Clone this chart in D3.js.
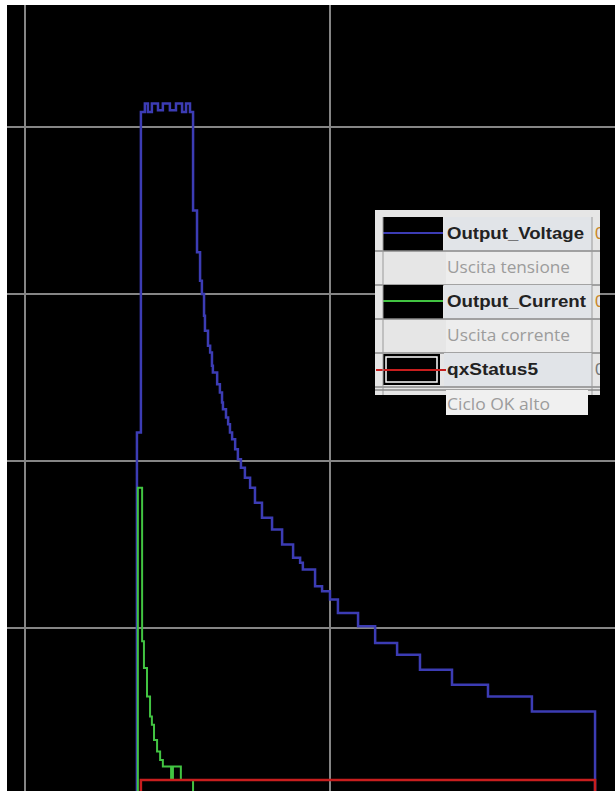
<!DOCTYPE html>
<html>
<head>
<meta charset="utf-8">
<script src="https://cdn.jsdelivr.net/npm/d3@7"></script>
<style>
  html, body { margin: 0; padding: 0; background: #fff; }
  svg { display: block; }
</style>
</head>
<body>
<div id="chart"></div>
<script>
// Scope trace: time (ms) vs. level, step-drawn like the PLC trend
const gridTimes = [0, 100, 200];
const gridLevels = [10, 20, 30, 40];

const voltageT = [36.7, 36.7, 38.0, 39.3, 40.3, 41.6, 43.6, 45.2, 47.5, 49.5, 51.5, 52.8, 54.1, 55.1, 56.4, 57.4, 58.0, 58.7, 59.0, 60.0, 60.7, 61.3, 61.6, 63.0, 63.9, 64.6, 64.9, 65.9, 66.6, 67.2, 67.9, 68.9, 69.8, 70.8, 72.1, 73.8, 75.4, 77.7, 81.0, 84.3, 87.9, 90.2, 91.1, 95.1, 97.4, 100.0, 102.6, 109.2, 114.8, 122.0, 129.5, 140.0, 151.8, 166.2, 186.9];
const voltageV = [0, 21.7, 40.9, 41.4, 40.9, 41.4, 41.0, 41.4, 41.0, 41.4, 40.9, 41.4, 40.9, 35.0, 32.5, 30.8, 30.0, 28.7, 27.8, 26.9, 26.5, 25.7, 25.3, 24.6, 24.1, 23.5, 23.1, 22.6, 22.2, 21.7, 21.3, 20.7, 20.1, 19.6, 19.0, 18.4, 17.5, 16.6, 15.9, 15.0, 14.2, 13.9, 13.5, 12.5, 12.2, 11.7, 10.9, 10.1, 9.1, 8.4, 7.5, 6.6, 5.9, 5.0, 0];

const currentT = [37.0, 37.0, 38.4, 39.0, 40.0, 41.0, 41.6, 42.3, 43.3, 44.3, 45.2, 47.9, 48.5, 51.1, 55.1];
const currentV = [0, 18.4, 9.2, 7.6, 5.9, 4.7, 4.2, 3.3, 2.6, 2.1, 1.7, 0.9, 1.7, 0.9, 0];

const statusT = [38.0, 38.0, 186.9];
const statusV = [0, 0.9, 0];

const legendNames = ['Output_Voltage', 'Output_Current', 'qxStatus5'];
const legendNotes = ['Uscita tensione', 'Uscita corrente', 'Ciclo OK alto'];
const legendColors = ['#3c3cb4', '#42c442', '#c81e1e'];

const W = 615, H = 791;
const svg = d3.select('#chart').append('svg')
  .attr('width', W)
  .attr('height', H);

const x = d3.scaleLinear().domain([0, 200]).range([25, 635]);
const y = d3.scaleLinear().domain([0, 50]).range([795, -40]);

svg.append('defs').append('clipPath').attr('id', 'plotclip')
  .append('rect').attr('x', 7).attr('y', 5).attr('width', W - 7).attr('height', H - 5);

svg.append('rect')
  .attr('x', 7).attr('y', 5)
  .attr('width', W - 7).attr('height', H - 5)
  .attr('fill', '#000');

const plot = svg.append('g').attr('clip-path', 'url(#plotclip)');

plot.selectAll('.vgrid').data(gridTimes)
  .join('line')
  .attr('x1', d => x(d)).attr('x2', d => x(d))
  .attr('y1', 5).attr('y2', H)
  .attr('stroke', '#858585').attr('stroke-width', 2);

plot.selectAll('.hgrid').data(gridLevels)
  .join('line')
  .attr('x1', 7).attr('x2', W)
  .attr('y1', d => y(d)).attr('y2', d => y(d))
  .attr('stroke', '#858585').attr('stroke-width', 2);

const line = d3.line()
  .x(d => x(d[0]))
  .y(d => y(d[1]))
  .curve(d3.curveStepAfter);

const traces = [
  { t: voltageT, v: voltageV, color: legendColors[0], w: 2.5 },
  { t: currentT, v: currentV, color: legendColors[1], w: 2 },
  { t: statusT, v: statusV, color: legendColors[2], w: 2.5 }
];

traces.forEach(tr => {
  plot.append('path')
    .datum(d3.zip(tr.t, tr.v))
    .attr('d', line)
    .attr('fill', 'none')
    .attr('stroke', tr.color)
    .attr('stroke-width', tr.w);
});

// legend panel (trend-viewer style)
const lg = svg.append('g');
const px0 = 375, px1 = 600, py0 = 210, rowH = 34, rowY0 = 217, pBottom = 395;

lg.append('clipPath').attr('id', 'legclip')
  .append('rect').attr('x', px0).attr('y', py0).attr('width', px1 - px0).attr('height', pBottom - py0);

lg.append('rect')
  .attr('x', px0).attr('y', py0)
  .attr('width', px1 - px0).attr('height', pBottom - py0)
  .attr('fill', '#e6e6e6');

legendNames.forEach((name, i) => {
  const ry = rowY0 + i * 2 * rowH;
  // name row
  lg.append('rect').attr('x', 444).attr('y', ry).attr('width', 148).attr('height', rowH)
    .attr('fill', '#e1e4e8');
  if (i < 2) {
    lg.append('rect').attr('x', 383).attr('y', ry).attr('width', 60).attr('height', rowH)
      .attr('fill', '#000');
    lg.append('line').attr('x1', 383).attr('x2', 443).attr('y1', ry + 16).attr('y2', ry + 16)
      .attr('stroke', legendColors[i]).attr('stroke-width', 2);
  } else {
    lg.append('rect').attr('x', 383).attr('y', ry + 1).attr('width', 57).attr('height', rowH - 3)
      .attr('fill', '#000');
    lg.append('rect').attr('x', 386).attr('y', ry + 4).attr('width', 51).attr('height', rowH - 9)
      .attr('fill', 'none').attr('stroke', '#fff').attr('stroke-width', 1.5);
    lg.append('line').attr('x1', 376).attr('x2', 446).attr('y1', ry + 17).attr('y2', ry + 17)
      .attr('stroke', legendColors[i]).attr('stroke-width', 2);
  }
  lg.append('text')
    .attr('x', 447).attr('y', ry + 22)
    .attr('font-family', 'Liberation Sans, Arial, sans-serif')
    .attr('font-size', '17px')
    .attr('font-weight', 'bold')
    .attr('fill', '#222')
    .attr('textLength', [137, 139, 91][i])
    .attr('lengthAdjust', 'spacingAndGlyphs')
    .text(name);
  lg.append('text')
    .attr('x', 595).attr('y', ry + 22)
    .attr('clip-path', 'url(#legclip)')
    .attr('font-family', 'Liberation Sans, Arial, sans-serif')
    .attr('font-size', '17px')
    .attr('fill', i < 2 ? '#c8862a' : '#777')
    .text('0');
  lg.append('line').attr('x1', px0).attr('x2', px1).attr('y1', ry + rowH).attr('y2', ry + rowH)
    .attr('stroke', '#8a8a8a').attr('stroke-width', 1.5);

  // description row
  const dy = ry + rowH;
  if (i < 2) {
    lg.append('rect').attr('x', 446).attr('y', dy + 1).attr('width', 144).attr('height', rowH - 1)
      .attr('fill', '#ededed');
    lg.append('text')
      .attr('x', 447).attr('y', dy + 22)
      .attr('font-family', 'Open Sans, sans-serif')
      .attr('font-size', '17px')
      .attr('fill', '#9c9c9c')
      .attr('textLength', 123)
      .attr('lengthAdjust', 'spacingAndGlyphs')
      .text(legendNotes[i]);
    lg.append('line').attr('x1', px0).attr('x2', px1).attr('y1', dy + rowH).attr('y2', dy + rowH)
      .attr('stroke', '#8a8a8a').attr('stroke-width', 1.5);
  }
});

// vertical separators
[383, 592].forEach(sx => {
  lg.append('line').attr('x1', sx).attr('x2', sx).attr('y1', rowY0).attr('y2', pBottom)
    .attr('stroke', '#9a9a9a').attr('stroke-width', 1);
});
lg.append('line').attr('x1', px0).attr('x2', px1).attr('y1', 390).attr('y2', 390)
  .attr('stroke', '#8a8a8a').attr('stroke-width', 1.5);

// last description sits below the panel
lg.append('rect').attr('x', 446).attr('y', 390).attr('width', 142).attr('height', 25)
  .attr('fill', '#f0f0f0');
lg.append('text')
  .attr('x', 447).attr('y', 410)
  .attr('font-family', 'Open Sans, sans-serif')
  .attr('font-size', '17px')
  .attr('fill', '#9c9c9c')
  .attr('textLength', 103)
  .attr('lengthAdjust', 'spacingAndGlyphs')
  .text(legendNotes[2]);
</script>
</body>
</html>
